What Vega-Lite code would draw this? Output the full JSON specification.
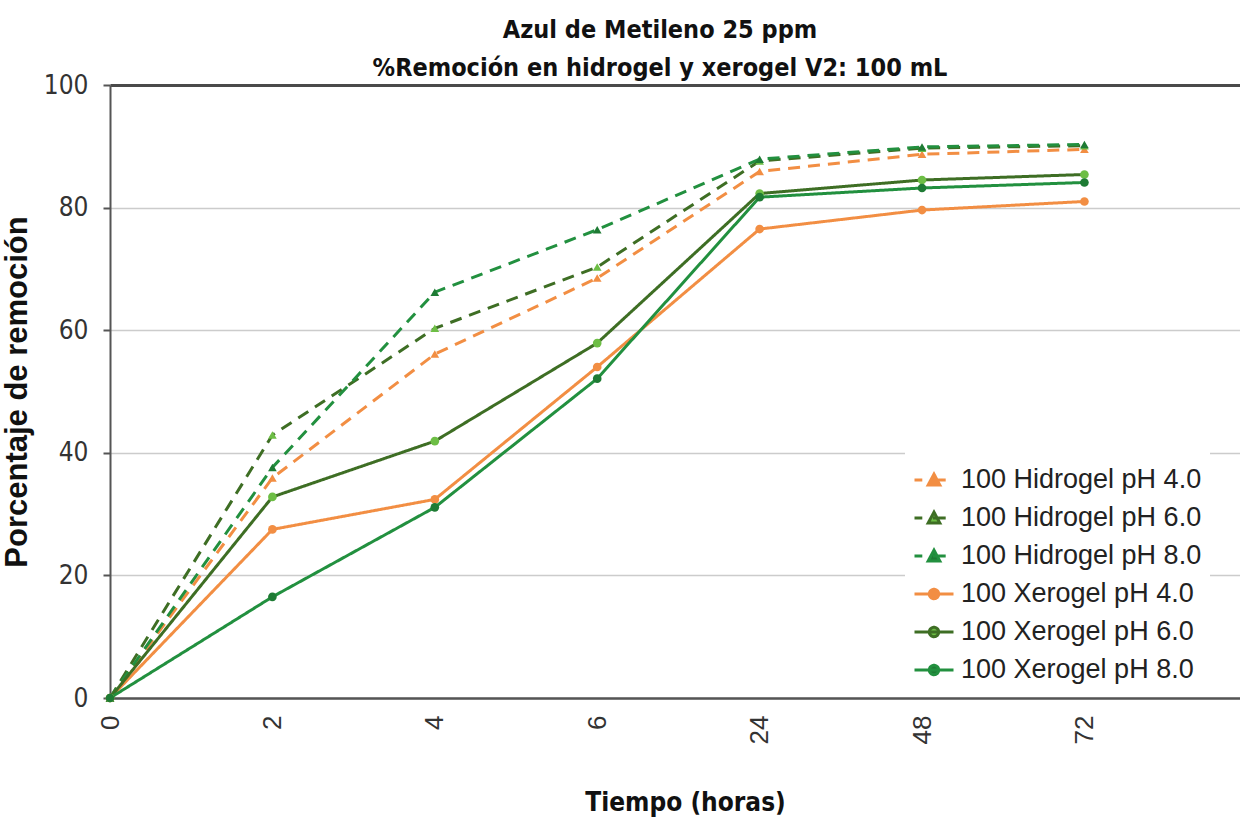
{
  "$schema": "https://vega.github.io/schema/vega-lite/v6.json",
  "width": 1130,
  "height": 613,
  "autosize": {"type": "none"},
  "padding": {"left": 110, "top": 85, "right": 0, "bottom": 125},
  "background": "white",
  "title": {
    "text": ["Azul de Metileno  25 ppm", "%Remoción en hidrogel y xerogel V2: 100 mL"],
    "font": "Liberation Sans Narrow, DejaVu Sans Condensed, sans-serif",
    "fontSize": 25,
    "fontWeight": "bold",
    "color": "#111111",
    "anchor": "middle",
    "lineHeight": 38,
    "offset": 6,
    "dy": 15,
    "dx": -15
  },
  "data": {
    "values": [
      {"series": "100 Hidrogel pH 4.0", "t": "0", "value": 0},
      {"series": "100 Hidrogel pH 4.0", "t": "2", "value": 35.9},
      {"series": "100 Hidrogel pH 4.0", "t": "4", "value": 56.1},
      {"series": "100 Hidrogel pH 4.0", "t": "6", "value": 68.5},
      {"series": "100 Hidrogel pH 4.0", "t": "24", "value": 85.9},
      {"series": "100 Hidrogel pH 4.0", "t": "48", "value": 88.7},
      {"series": "100 Hidrogel pH 4.0", "t": "72", "value": 89.5},
      {"series": "100 Hidrogel pH 6.0", "t": "0", "value": 0},
      {"series": "100 Hidrogel pH 6.0", "t": "2", "value": 42.9},
      {"series": "100 Hidrogel pH 6.0", "t": "4", "value": 60.3},
      {"series": "100 Hidrogel pH 6.0", "t": "6", "value": 70.3},
      {"series": "100 Hidrogel pH 6.0", "t": "24", "value": 87.6},
      {"series": "100 Hidrogel pH 6.0", "t": "48", "value": 89.7},
      {"series": "100 Hidrogel pH 6.0", "t": "72", "value": 90.1},
      {"series": "100 Hidrogel pH 8.0", "t": "0", "value": 0},
      {"series": "100 Hidrogel pH 8.0", "t": "2", "value": 37.6},
      {"series": "100 Hidrogel pH 8.0", "t": "4", "value": 66.2},
      {"series": "100 Hidrogel pH 8.0", "t": "6", "value": 76.4},
      {"series": "100 Hidrogel pH 8.0", "t": "24", "value": 87.9},
      {"series": "100 Hidrogel pH 8.0", "t": "48", "value": 89.9},
      {"series": "100 Hidrogel pH 8.0", "t": "72", "value": 90.3},
      {"series": "100 Xerogel pH 4.0", "t": "0", "value": 0},
      {"series": "100 Xerogel pH 4.0", "t": "2", "value": 27.5},
      {"series": "100 Xerogel pH 4.0", "t": "4", "value": 32.4},
      {"series": "100 Xerogel pH 4.0", "t": "6", "value": 54.0},
      {"series": "100 Xerogel pH 4.0", "t": "24", "value": 76.5},
      {"series": "100 Xerogel pH 4.0", "t": "48", "value": 79.6},
      {"series": "100 Xerogel pH 4.0", "t": "72", "value": 81.0},
      {"series": "100 Xerogel pH 6.0", "t": "0", "value": 0},
      {"series": "100 Xerogel pH 6.0", "t": "2", "value": 32.8},
      {"series": "100 Xerogel pH 6.0", "t": "4", "value": 41.9},
      {"series": "100 Xerogel pH 6.0", "t": "6", "value": 57.9},
      {"series": "100 Xerogel pH 6.0", "t": "24", "value": 82.3},
      {"series": "100 Xerogel pH 6.0", "t": "48", "value": 84.5},
      {"series": "100 Xerogel pH 6.0", "t": "72", "value": 85.4},
      {"series": "100 Xerogel pH 8.0", "t": "0", "value": 0},
      {"series": "100 Xerogel pH 8.0", "t": "2", "value": 16.5},
      {"series": "100 Xerogel pH 8.0", "t": "4", "value": 31.1},
      {"series": "100 Xerogel pH 8.0", "t": "6", "value": 52.1},
      {"series": "100 Xerogel pH 8.0", "t": "24", "value": 81.7},
      {"series": "100 Xerogel pH 8.0", "t": "48", "value": 83.2},
      {"series": "100 Xerogel pH 8.0", "t": "72", "value": 84.1}
    ]
  },
  "encoding": {
    "x": {
      "field": "t",
      "type": "ordinal",
      "sort": ["0", "2", "4", "6", "24", "48", "72"],
      "scale": {"type": "point", "padding": 0.479, "align": 0},
      "axis": {
        "title": "Tiempo (horas)",
        "titleFont": "Liberation Sans Narrow, DejaVu Sans Condensed, sans-serif",
        "titleFontSize": 26,
        "titleFontWeight": "bold",
        "titleColor": "#111111",
        "titlePadding": 46,
        "titleX": 575,
        "labelAngle": -90,
        "labelFont": "Liberation Sans, sans-serif",
        "labelFontSize": 26,
        "labelColor": "#333333",
        "labelPadding": 17,
        "ticks": false,
        "domainColor": "#555555",
        "domainWidth": 2.5,
        "grid": false
      }
    },
    "y": {
      "field": "value",
      "type": "quantitative",
      "scale": {"domain": [0, 100], "nice": false},
      "axis": {
        "title": "Porcentaje de remoción",
        "titleFont": "Liberation Sans, sans-serif",
        "titleFontSize": 31,
        "titleFontWeight": "bold",
        "titleColor": "#111111",
        "titlePadding": 10,
        "values": [0, 20, 40, 60, 80, 100],
        "labelFont": "Liberation Sans Narrow, DejaVu Sans Condensed, sans-serif",
        "labelFontSize": 26,
        "labelColor": "#333333",
        "labelPadding": 15,
        "tickSize": 7,
        "tickColor": "#555555",
        "tickWidth": 2,
        "domainColor": "#555555",
        "domainWidth": 2,
        "grid": true,
        "gridColor": {"condition": {"test": "datum.value === 100", "value": "#4a4a4a"}, "value": "#cccccc"},
        "gridWidth": {"condition": {"test": "datum.value === 100", "value": 3}, "value": 1.5}
      }
    }
  },
  "layer": [
    {
      "mark": {"type": "line", "strokeWidth": 3},
      "encoding": {
        "color": {
          "field": "series",
          "type": "nominal",
          "scale": {
            "domain": ["100 Hidrogel pH 4.0", "100 Hidrogel pH 6.0", "100 Hidrogel pH 8.0", "100 Xerogel pH 4.0", "100 Xerogel pH 6.0", "100 Xerogel pH 8.0"],
            "range": ["#F28E43", "#3E6E24", "#22903F", "#F28E43", "#3E6E24", "#22903F"]
          },
          "legend": {
            "title": null,
            "orient": "none",
            "legendX": 795,
            "legendY": 366,
            "fillColor": "white",
            "padding": 8,
            "symbolSize": 1521,
            "symbolStrokeWidth": 3,
            "rowPadding": 4,
            "labelOffset": 6,
            "labelFont": "Liberation Sans, sans-serif",
            "labelFontSize": 27,
            "labelColor": "#222222",
            "labelLimit": 400,
            "encode": {
              "symbols": {
                "update": {
                  "shape": {"signal": "indexof(datum.value, 'Hidrogel') >= 0 ? 'M-1,0H-0.6M-0.05,0H0.6M-0.3,0.26L0,-0.3L0.3,0.26Z' : 'M-1,0H1M-0.24,0A0.24,0.24,0,1,0,0.24,0A0.24,0.24,0,1,0,-0.24,0Z'"},
                  "fill": {"signal": "indexof(datum.value, '6.0') >= 0 ? '#6DBE45' : (indexof(datum.value, '8.0') >= 0 ? '#1E7B34' : '#F28E43')"},
                  "fillOpacity": {"value": 1},
                  "strokeWidth": {"value": 3},
                  "strokeDash": {"value": [1, 0]}
                }
              }
            }
          }
        },
        "strokeDash": {
          "field": "series",
          "type": "nominal",
          "scale": {
            "domain": ["100 Hidrogel pH 4.0", "100 Hidrogel pH 6.0", "100 Hidrogel pH 8.0", "100 Xerogel pH 4.0", "100 Xerogel pH 6.0", "100 Xerogel pH 8.0"],
            "range": [[12, 8], [12, 8], [12, 8], [1, 0], [1, 0], [1, 0]]
          },
          "legend": null
        }
      }
    },
    {
      "mark": {"type": "point", "filled": true, "size": 75, "opacity": 1},
      "encoding": {
        "color": {
          "field": "series",
          "type": "nominal",
          "scale": {
            "domain": ["100 Hidrogel pH 4.0", "100 Hidrogel pH 6.0", "100 Hidrogel pH 8.0", "100 Xerogel pH 4.0", "100 Xerogel pH 6.0", "100 Xerogel pH 8.0"],
            "range": ["#F28E43", "#6DBE45", "#1E7B34", "#F28E43", "#6DBE45", "#1E7B34"]
          },
          "legend": null
        },
        "shape": {
          "field": "series",
          "type": "nominal",
          "scale": {
            "domain": ["100 Hidrogel pH 4.0", "100 Hidrogel pH 6.0", "100 Hidrogel pH 8.0", "100 Xerogel pH 4.0", "100 Xerogel pH 6.0", "100 Xerogel pH 8.0"],
            "range": ["triangle-up", "triangle-up", "triangle-up", "circle", "circle", "circle"]
          },
          "legend": null
        }
      }
    }
  ],
  "resolve": {"scale": {"color": "independent"}},
  "config": {"view": {"stroke": null}}
}
